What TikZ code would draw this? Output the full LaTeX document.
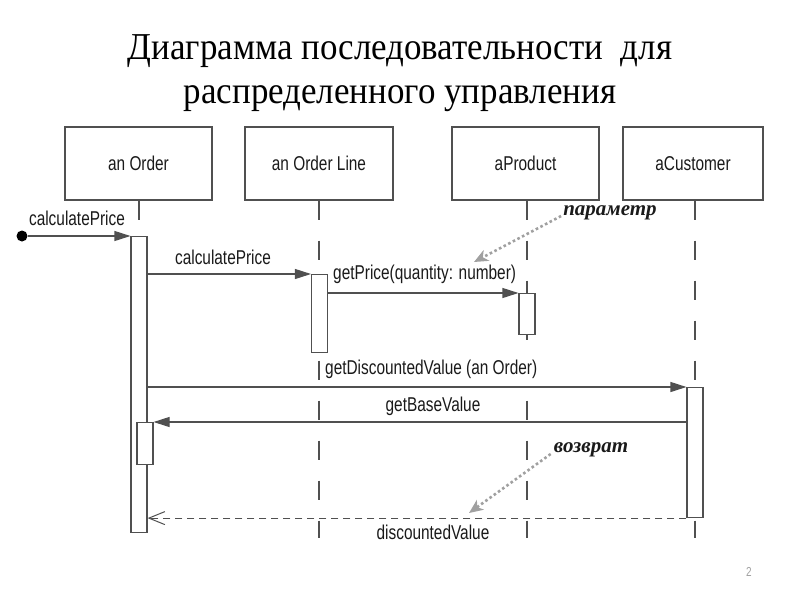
\documentclass[tikz,border=0pt]{standalone}
\usepackage{fontspec}
\setmainfont{Liberation Serif}
\newfontfamily\titlefont[FakeStretch=0.92]{Liberation Serif}
\newfontfamily\lblfont[FakeStretch=0.77]{Liberation Sans}
\newfontfamily\notefont{Liberation Serif}
\usetikzlibrary{arrows.meta,calc}
\definecolor{linec}{HTML}{505050}
\definecolor{textc}{HTML}{1A1A1A}
\definecolor{notec}{HTML}{A0A0A0}
\begin{document}
\begin{tikzpicture}[x=1pt,y=-1pt,
  obj/.style={draw=linec, line width=1.1pt, fill=white, minimum height=73pt, inner sep=0pt, font=\lblfont\fontsize{20}{22}\selectfont, text=textc},
  life/.style={draw=linec, line width=1.1pt, dash pattern=on 19pt off 21pt},
  act/.style={draw=linec, line width=1.1pt, fill=white, minimum width=16pt, inner sep=0pt, anchor=north},
  msg/.style={draw=linec, line width=1.1pt, -{Triangle[length=16pt,width=10pt]}},
  ret/.style={draw=linec, line width=1.1pt, dash pattern=on 7pt off 5pt, -{Straight Barb[length=16pt,width=13pt,line width=1pt]}},
  lbl/.style={font=\lblfont\fontsize{20}{22}\selectfont, text=textc, inner xsep=1pt, inner ysep=3pt, fill=white},
  note/.style={font=\notefont\bfseries\itshape\fontsize{21}{24}\selectfont, text=textc, inner sep=0pt},
  notearrow/.style={draw=notec, line width=2.6pt, dash pattern=on 2.6pt off 2.6pt, -{Stealth[length=14pt,width=12pt,inset=4pt]}},
  dotst/.style={circle, fill=black, minimum size=11pt, inner sep=0pt}
]
\useasboundingbox (0,0) rectangle (800,600);
% title
\node[font=\titlefont\fontsize{38}{44}\selectfont, align=center] (title) at (400,73) {Диаграмма последовательности~ для\\распределенного управления};
% objects
\node[obj, minimum width=147pt] (o1) at (138.5,163.5) {an Order};
\node[obj, minimum width=148pt] (o2) at (319,163.5) {an Order Line};
\node[obj, minimum width=147pt] (o3) at (525.5,163.5) {aProduct};
\node[obj, minimum width=140pt] (o4) at (693,163.5) {aCustomer};
% lifeline ends
\coordinate (e1) at (139,532);
\coordinate (e2) at (319,538);
\coordinate (e3) at (527,538);
\coordinate (e4) at (695,538);
\draw[life] (o1.south -| e1) -- (e1);
\draw[life] (o2.south -| e2) -- (e2);
\draw[life] (o3.south -| e3) -- (e3);
\draw[life] (o4.south -| e4) -- (e4);
% activations
\node[act, minimum height=296pt] (a1) at (139,236) {};
\node[act, minimum height=78pt] (a2) at (319.5,274) {};
\node[act, minimum height=41pt] (a3) at (527,293) {};
\node[act, minimum height=130pt] (a4) at (695,387) {};
\node[act, minimum height=42pt] (a5) at (145,422) {};
% messages
\node[dotst] (start) at (22,236) {};
\draw[msg] (start) -- (a1.north west);
\node[lbl] (m1) at (77,218) {calculatePrice};
\draw[msg] (a1.east |- a2.north) -- (a2.north west);
\node[lbl] (m2) at (223,257) {calculatePrice};
\draw[msg] (a2.east |- a3.north) -- (a3.north west);
\node[lbl, anchor=west] (m3) at (332,274) {getPrice(quantity: number)};
\draw[msg] (a1.east |- a4.north) -- (a4.north west);
\node[lbl, anchor=west] (m4) at (324,369) {getDiscountedValue (an Order)};
\draw[msg] (a4.west |- a5.north) -- (a5.north east);
\node[lbl] (m5) at (433,406) {getBaseValue};
\draw[ret] (a4.south west) -- (a1.east |- a4.south);
\node[lbl] (m6) at (433,532) {discountedValue};
% notes
\node[note] (n1) at (610,213) {параметр};
\coordinate (t1) at (474,262);
\draw[notearrow] (n1.west) ++(-2,3) -- (t1);
\node[note] (n2) at (591,450) {возврат};
\coordinate (t2) at (469,513);
\draw[notearrow] (n2.west) ++(-3,4) -- (t2);
% page number
\node[font=\lblfont\fontsize{13}{15}\selectfont, text=notec] (pg) at (749,572) {2};
\end{tikzpicture}
\end{document}
